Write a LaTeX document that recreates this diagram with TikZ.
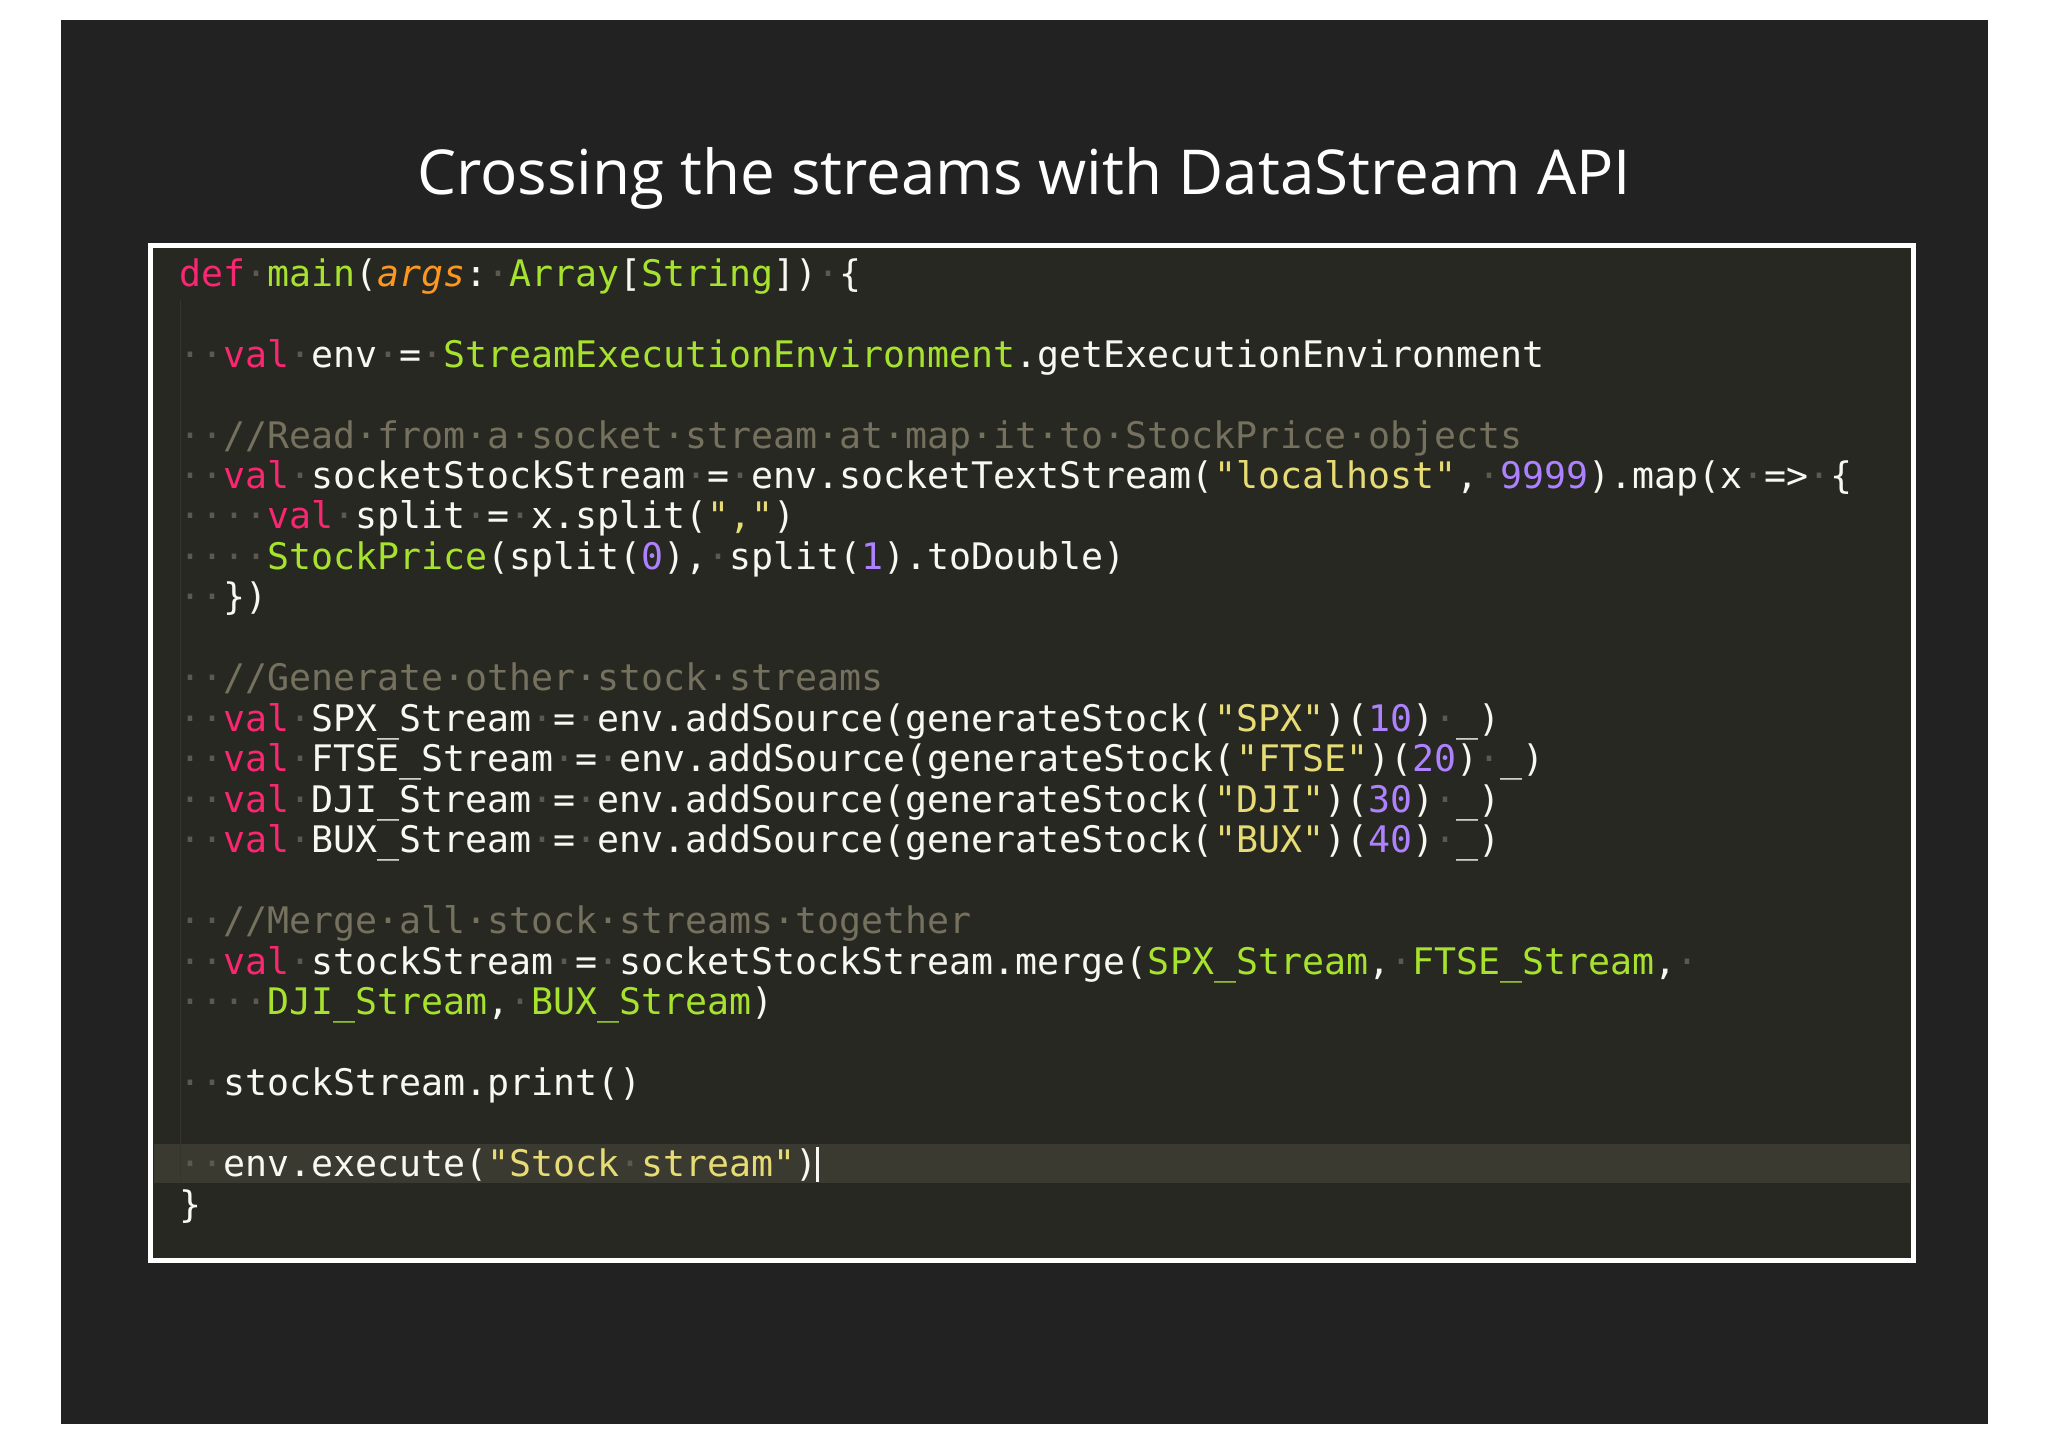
\documentclass[tikz,border=0pt]{standalone}
\usepackage{fontspec}
\setmainfont{Open Sans}
\newfontfamily\code{DejaVu Sans Mono}
\definecolor{outerbg}{HTML}{222222}
\definecolor{codebg}{HTML}{272822}
\definecolor{hl}{HTML}{3A3A30}
\definecolor{kw}{HTML}{F92672}
\definecolor{gr}{HTML}{A6E22E}
\definecolor{st}{HTML}{E6DB74}
\definecolor{nu}{HTML}{AE81FF}
\definecolor{cm}{HTML}{75715E}
\definecolor{ar}{HTML}{FD971F}
\definecolor{tx}{HTML}{F8F8F2}
\definecolor{ws}{HTML}{5A5A50}
\definecolor{guide}{HTML}{34352D}
\newcommand\K[1]{\textcolor{kw}{#1}}
\newcommand\G[1]{\textcolor{gr}{#1}}
\newcommand\Sx[1]{\textcolor{st}{#1}}
\newcommand\Nx[1]{\textcolor{nu}{#1}}
\newcommand\Cx[1]{\textcolor{cm}{#1}}
\newcommand\A[1]{\textcolor{ar}{\textit{#1}}}
\newcommand\D[1]{\textcolor{ws}{#1}}
\begin{document}
\begin{tikzpicture}[x=1pt,y=-1pt,
  cl/.style={anchor=base west,inner sep=0pt,text=tx,font=\code\fontsize{28}{31}\selectfont}]
\useasboundingbox (0,0) rectangle (1568,1108);
\fill[white] (0,0) rectangle (1568,1108);
\fill[outerbg] (47,15) rectangle (1522,1090);
\node[text=white,font=\fontsize{47.4}{56}\selectfont,anchor=base] (title) at (784,149) {Crossing the streams with DataStream API};
\fill[codebg] (115,188) rectangle (1465,965);
\fill[hl] (118,876) rectangle (1462,906);
\draw[guide,line width=0.8pt] (138,230) -- (138,905);
\draw[tx,line width=2pt] (626,878) -- (626,905);
\draw[white,line width=4pt] (115,188) rectangle (1465,965);
\node[cl] (l1) at (137,219) {\K{def}\D{·}\G{main}(\A{args}:\D{·}\G{Array}[\G{String}])\D{·}\{};
\node[cl] (l2) at (137,281) {\D{··}\K{val}\D{·}env\D{·}=\D{·}\G{StreamExecutionEnvironment}.getExecutionEnvironment};
\node[cl] (l3) at (137,343) {\D{··}\Cx{//Read·from·a·socket·stream·at·map·it·to·StockPrice·objects}};
\node[cl] (l4) at (137,374) {\D{··}\K{val}\D{·}socketStockStream\D{·}=\D{·}env.socketTextStream(\Sx{"localhost"},\D{·}\Nx{9999}).map(x\D{·}=>\D{·}\{};
\node[cl] (l5) at (137,405) {\D{····}\K{val}\D{·}split\D{·}=\D{·}x.split(\Sx{","})};
\node[cl] (l6) at (137,436) {\D{····}\G{StockPrice}(split(\Nx{0}),\D{·}split(\Nx{1}).toDouble)};
\node[cl] (l7) at (137,467) {\D{··}\})};
\node[cl] (l8) at (137,529) {\D{··}\Cx{//Generate·other·stock·streams}};
\node[cl] (l9) at (137,560) {\D{··}\K{val}\D{·}SPX\_Stream\D{·}=\D{·}env.addSource(generateStock(\Sx{"SPX"})(\Nx{10})\D{·}\_)};
\node[cl] (l10) at (137,591) {\D{··}\K{val}\D{·}FTSE\_Stream\D{·}=\D{·}env.addSource(generateStock(\Sx{"FTSE"})(\Nx{20})\D{·}\_)};
\node[cl] (l11) at (137,622) {\D{··}\K{val}\D{·}DJI\_Stream\D{·}=\D{·}env.addSource(generateStock(\Sx{"DJI"})(\Nx{30})\D{·}\_)};
\node[cl] (l12) at (137,653) {\D{··}\K{val}\D{·}BUX\_Stream\D{·}=\D{·}env.addSource(generateStock(\Sx{"BUX"})(\Nx{40})\D{·}\_)};
\node[cl] (l13) at (137,715) {\D{··}\Cx{//Merge·all·stock·streams·together}};
\node[cl] (l14) at (137,746) {\D{··}\K{val}\D{·}stockStream\D{·}=\D{·}socketStockStream.merge(\G{SPX\_Stream},\D{·}\G{FTSE\_Stream},\D{·}};
\node[cl] (l15) at (137,777) {\D{····}\G{DJI\_Stream},\D{·}\G{BUX\_Stream})};
\node[cl] (l16) at (137,839) {\D{··}stockStream.print()};
\node[cl] (l17) at (137,901) {\D{··}env.execute(\Sx{"Stock\textcolor{ws}{·}stream"})};
\node[cl] (l18) at (137,932) {\}};
\end{tikzpicture}
\end{document}
